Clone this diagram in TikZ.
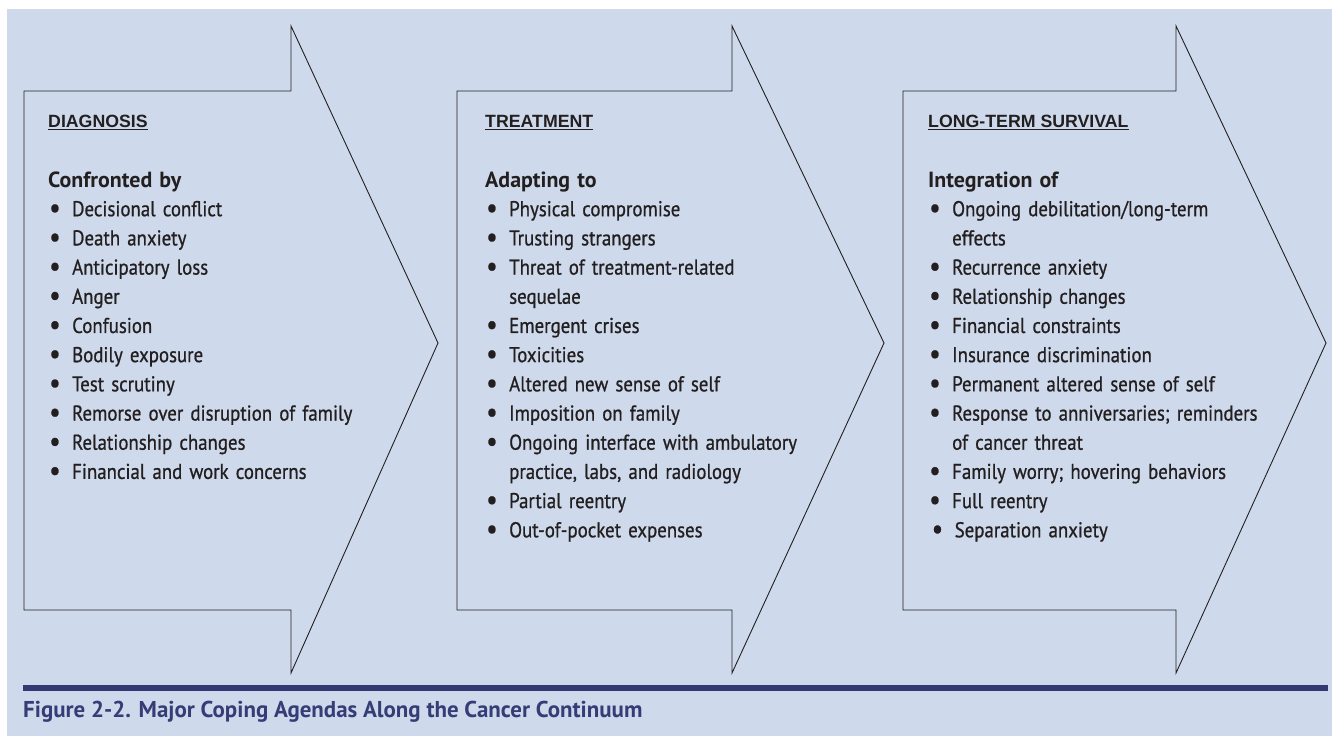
\documentclass[tikz,border=0pt]{standalone}
\usepackage{fontspec}
\setmainfont{PT Sans}
\newfontfamily\bodyfont{PT Sans}[FakeStretch=0.88,FakeBold=0.8]
\newfontfamily\headfont{Liberation Sans}
\definecolor{bgcol}{RGB}{206,218,235}
\definecolor{navy}{RGB}{51,58,115}
\definecolor{capcol}{RGB}{52,61,118}
\definecolor{inkcol}{RGB}{35,31,32}
\newcommand{\bitem}[1]{\makebox[24bp][l]{\hspace{1bp}\raisebox{-1.2bp}{\scalebox{1.35}{\textbullet}}}#1}
\newcommand{\bcont}[1]{\hspace*{24bp}#1}
\newcommand{\subhead}[1]{{\normalfont\bfseries\fontsize{22}{29.3}\selectfont #1}}
\newcommand{\hul}[1]{\setbox0\hbox{#1}\rlap{\rule[-2.6bp]{\wd0}{1.1bp}}\box0}
\begin{document}
\begin{tikzpicture}[x=1bp,y=-1bp,
  arrowline/.style={draw=inkcol, line width=0.9bp, line join=miter},
  heading/.style={anchor=base west, inner sep=0, text=inkcol,
    font=\headfont\bfseries\fontsize{17.8}{20}\selectfont},
  block/.style={anchor=base west, inner sep=0, text width=400bp, align=left,
    text=inkcol, font=\bodyfont\fontsize{21.5}{29.3}\selectfont},
  caption/.style={anchor=base west, inner sep=0, text=capcol,
    font=\bfseries\fontsize{23}{26}\selectfont}]
\useasboundingbox (0,0) rectangle (1332,736);
\fill[white] (0,0) rectangle (1332,736);
\fill[bgcol] (7,9) rectangle (1332,736);
% arrows
\draw[arrowline] (24,91) -- (291,91) -- (291,26) -- (438,343) -- (291,673) -- (291,610) -- (24,610) -- cycle;
\draw[arrowline] (457,91) -- (732,91) -- (732,26) -- (884,343) -- (732,673) -- (732,610) -- (457,610) -- cycle;
\draw[arrowline] (903,91) -- (1176,91) -- (1176,26) -- (1326,343) -- (1176,673) -- (1176,610) -- (903,610) -- cycle;
% headings
\node[heading] (h1) at (48,127) {\hul{DIAGNOSIS}};
\node[heading] (h2) at (485,127) {\hul{TREATMENT}};
\node[heading] (h3) at (928,127) {\hul{LONG-TERM SURVIVAL}};
% blocks
\node[block] (b1) at (48,187) {\subhead{Confronted by}\\
\bitem{Decisional conflict}\\
\bitem{Death anxiety}\\
\bitem{Anticipatory loss}\\
\bitem{Anger}\\
\bitem{Confusion}\\
\bitem{Bodily exposure}\\
\bitem{Test scrutiny}\\
\bitem{Remorse over disruption of family}\\
\bitem{Relationship changes}\\
\bitem{Financial and work concerns}};
\node[block] (b2) at (485,187) {\subhead{Adapting to}\\
\bitem{Physical compromise}\\
\bitem{Trusting strangers}\\
\bitem{Threat of treatment-related}\\
\bcont{sequelae}\\
\bitem{Emergent crises}\\
\bitem{Toxicities}\\
\bitem{Altered new sense of self}\\
\bitem{Imposition on family}\\
\bitem{Ongoing interface with ambulatory}\\
\bcont{practice, labs, and radiology}\\
\bitem{Partial reentry}\\
\bitem{Out-of-pocket expenses}};
\node[block] (b3) at (928,187) {\subhead{Integration of}\\
\bitem{Ongoing debilitation/long-term}\\
\bcont{effects}\\
\bitem{Recurrence anxiety}\\
\bitem{Relationship changes}\\
\bitem{Financial constraints}\\
\bitem{Insurance discrimination}\\
\bitem{Permanent altered sense of self}\\
\bitem{Response to anniversaries; reminders}\\
\bcont{of cancer threat}\\
\bitem{Family worry; hovering behaviors}\\
\bitem{Full reentry}\\
\hspace*{2.5bp}\bitem{Separation anxiety}};
% rule and caption
\fill[navy] (23,685) rectangle (1328,691);
\node[caption] (cap) at (23,717) {Figure 2-2. Major Coping Agendas Along the Cancer Continuum};
\end{tikzpicture}
\end{document}
